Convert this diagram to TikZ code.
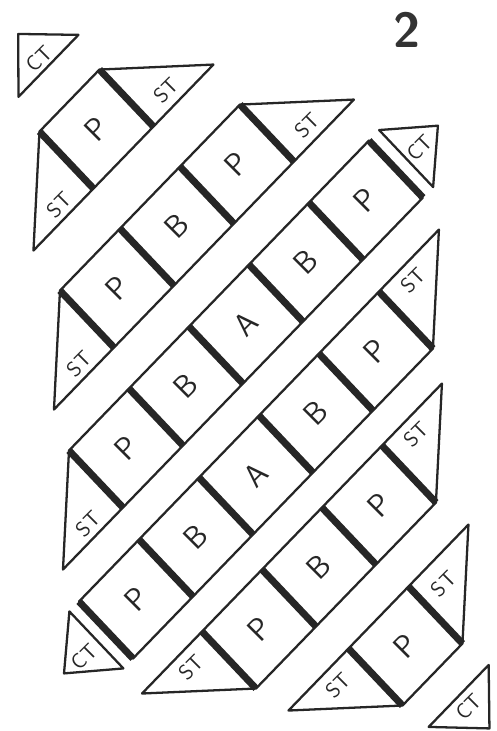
\documentclass[tikz,border=0pt]{standalone}

\begin{document}
\begin{tikzpicture}[
  x=0.02cm, y=-0.02cm,
  edge/.style={draw=black!85, line width=1.3pt, line join=round},
  seam/.style={draw=black!85, line width=4pt},
  patch/.style={font=\sffamily\fontsize{18}{18}\selectfont, rotate=45,
                inner sep=0pt, text=black!85},
  tri/.style={font=\sffamily\fontsize{12}{12}\selectfont, rotate=45,
              inner sep=0pt, text=black!85},
  rowframe/.style={x={(1.2cm,1.24cm)}, y={(1.08cm,-1.14cm)}},
]
\useasboundingbox (0,0) rectangle (497,731);

% ---- sheet number and row origins ----------------------------------------
\node[font=\sffamily\bfseries\fontsize{28}{28}\selectfont, text=black!80]
  (sheet) at (407,30) {2};

\coordinate (row1) at (-143.5,377);
\coordinate (row2) at (-63,474);
\coordinate (row3) at (6,572);
\coordinate (row4) at (76,661);
\coordinate (row5) at (139,753);
\coordinate (row6) at (225.5,832);

% ---- row 1 ----------------------------------------------------------------
\begin{scope}[shift={(row1)}, rowframe]
  \draw[edge] (3.5,-.5) -- (4.5,-.5) -- (5.5,.5) -- (2.5,.5) -- cycle;
  \draw[seam] (3.5,-.5) -- (3.5,.5) (4.5,-.5) -- (4.5,.5);
  \node[patch] (r1-p1)  at (4,0)     {P};
  \node[tri]   (r1-stl) at (3.08,.33) {ST};
  \node[tri]   (r1-str) at (4.9,.3)   {ST};
  % corner, top left
  \draw[edge] (3.6,-1) -- (4.6,-1) -- (4.1,-1.56) -- cycle;
  \node[tri] (ct-tl) at (4.08,-1.15) {CT};
\end{scope}

% ---- row 2 ----------------------------------------------------------------
\begin{scope}[shift={(row2)}, rowframe]
  \draw[edge] (2.5,-.5) -- (5.5,-.5) -- (6.5,.5) -- (1.5,.5) -- cycle;
  \draw[seam] (2.5,-.5) -- (2.5,.5) (3.5,-.5) -- (3.5,.5)
              (4.5,-.5) -- (4.5,.5) (5.5,-.5) -- (5.5,.5);
  \node[patch] (r2-p1)  at (3,0)     {P};
  \node[patch] (r2-b1)  at (4,0)     {B};
  \node[patch] (r2-p2)  at (5,0)     {P};
  \node[tri]   (r2-stl) at (2.08,.33) {ST};
  \node[tri]   (r2-str) at (5.9,.3)   {ST};
\end{scope}

% ---- row 3 ----------------------------------------------------------------
\begin{scope}[shift={(row3)}, rowframe]
  \draw[edge] (1.5,-.5) -- (6.5,-.5) -- (6.5,.5) -- (0.5,.5) -- cycle;
  \draw[seam] (1.5,-.5) -- (1.5,.5) (2.5,-.5) -- (2.5,.5)
              (3.5,-.5) -- (3.5,.5) (4.5,-.5) -- (4.5,.5)
              (5.5,-.5) -- (5.5,.5) (6.5,-.5) -- (6.5,.5);
  \node[patch] (r3-p1)  at (2,0)     {P};
  \node[patch] (r3-b1)  at (3,0)     {B};
  \node[patch] (r3-a1)  at (4,0)     {A};
  \node[patch] (r3-b2)  at (5,0)     {B};
  \node[patch] (r3-p2)  at (6,0)     {P};
  \node[tri]   (r3-stl) at (1.08,.33) {ST};
  % corner, top right
  \draw[edge] (6.67,-.5) -- (7.2,0) -- (6.67,.5) -- cycle;
  \node[tri] (ct-tr) at (6.87,.03) {CT};
\end{scope}

% ---- row 4 ----------------------------------------------------------------
\begin{scope}[shift={(row4)}, rowframe]
  \draw[edge] (0.5,-.5) -- (6.5,-.5) -- (5.5,.5) -- (0.5,.5) -- cycle;
  \draw[seam] (0.5,-.5) -- (0.5,.5) (1.5,-.5) -- (1.5,.5)
              (2.5,-.5) -- (2.5,.5) (3.5,-.5) -- (3.5,.5)
              (4.5,-.5) -- (4.5,.5) (5.5,-.5) -- (5.5,.5);
  \node[patch] (r4-p1)  at (1,0)      {P};
  \node[patch] (r4-b1)  at (2,0)      {B};
  \node[patch] (r4-a1)  at (3,0)      {A};
  \node[patch] (r4-b2)  at (4,0)      {B};
  \node[patch] (r4-p2)  at (5,0)      {P};
  \node[tri]   (r4-str) at (5.88,-.28) {ST};
  % corner, bottom left
  \draw[edge] (0.34,-.5) -- (0.34,.5) -- (-0.2,0) -- cycle;
  \node[tri] (ct-bl) at (0.1,.04) {CT};
\end{scope}

% ---- row 5 ----------------------------------------------------------------
\begin{scope}[shift={(row5)}, rowframe]
  \draw[edge] (0.5,-.5) -- (5.5,-.5) -- (4.5,.5) -- (1.5,.5) -- cycle;
  \draw[seam] (1.5,-.5) -- (1.5,.5) (2.5,-.5) -- (2.5,.5)
              (3.5,-.5) -- (3.5,.5) (4.5,-.5) -- (4.5,.5);
  \node[patch] (r5-p1)  at (2,0)      {P};
  \node[patch] (r5-b1)  at (3,0)      {B};
  \node[patch] (r5-p2)  at (4,0)      {P};
  \node[tri]   (r5-stl) at (1.12,-.28) {ST};
  \node[tri]   (r5-str) at (4.88,-.28) {ST};
\end{scope}

% ---- row 6 ----------------------------------------------------------------
\begin{scope}[shift={(row6)}, rowframe]
  \draw[edge] (1.5,-.5) -- (4.5,-.5) -- (3.5,.5) -- (2.5,.5) -- cycle;
  \draw[seam] (2.5,-.5) -- (2.5,.5) (3.5,-.5) -- (3.5,.5);
  \node[patch] (r6-p1)  at (3,0)      {P};
  \node[tri]   (r6-stl) at (2.12,-.26) {ST};
  \node[tri]   (r6-str) at (3.82,-.2)  {ST};
  % corner, bottom right
  \draw[edge] (2.55,.93) -- (3.55,.93) -- (3.05,1.5) -- cycle;
  \node[tri] (ct-br) at (3.05,1.12) {CT};
\end{scope}

\end{tikzpicture}
\end{document}
